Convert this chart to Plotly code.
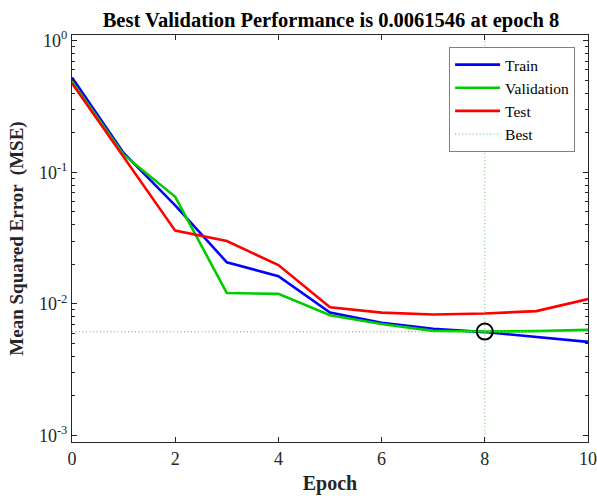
import plotly.graph_objects as go

epochs = [0, 1, 2, 3, 4, 5, 6, 7, 8, 9, 10]
train = [0.524, 0.140, 0.056, 0.0207, 0.0162, 0.0086, 0.00717, 0.00645, 0.0061, 0.0056, 0.00514]
validation = [0.489, 0.136, 0.065, 0.0121, 0.0119, 0.0082, 0.00702, 0.00623, 0.0061546, 0.0062, 0.00634]
test = [0.474, 0.130, 0.036, 0.030, 0.0197, 0.0094, 0.00857, 0.0083, 0.00845, 0.0088, 0.01086]
best_epoch = 8
best_perf = 0.0061546

ytick_vals = [1e-3, 1e-2, 1e-1, 1e0]
ytick_text = ["10<sup>-3</sup>", "10<sup>-2</sup>", "10<sup>-1</sup>", "10<sup>0</sup>"]
xtick_vals = [0, 2, 4, 6, 8, 10]

minor_vals = [m * 10.0 ** e for e in range(-3, 1) for m in range(2, 10)]

FONT = "Liberation Serif, Times New Roman, serif"
TXT = "#262626"
BEST_COLOR = "rgb(120,200,120)"

fig = go.Figure()
fig.add_trace(go.Scatter(x=epochs, y=train, mode="lines", name="Train",
                         line=dict(color="#0000ff", width=2.6)))
fig.add_trace(go.Scatter(x=epochs, y=validation, mode="lines", name="Validation",
                         line=dict(color="#00cc00", width=2.6)))
fig.add_trace(go.Scatter(x=epochs, y=test, mode="lines", name="Test",
                         line=dict(color="#ff0000", width=2.6)))
fig.add_trace(go.Scatter(x=[0, 10], y=[best_perf, best_perf], mode="lines", name="Best",
                         line=dict(color=BEST_COLOR, width=1.2, dash="1px,2.5px")))
fig.add_trace(go.Scatter(x=[best_epoch, best_epoch], y=[1e-3 * 0.8, 1.2], mode="lines",
                         showlegend=False,
                         line=dict(color=BEST_COLOR, width=1.2, dash="1px,2.5px")))
fig.add_trace(go.Scatter(x=[best_epoch], y=[best_perf], mode="markers", showlegend=False,
                         marker=dict(symbol="circle-open", size=16, color="black",
                                     line=dict(width=2, color="black"))))

fig.update_layout(
    width=597, height=496,
    margin=dict(l=72, r=9, t=35, b=54, autoexpand=False),
    paper_bgcolor="white", plot_bgcolor="white",
    font=dict(family=FONT, color=TXT, size=18),
    title=dict(text="<b>Best Validation Performance is 0.0061546 at epoch 8</b>",
               x=331 / 597, xanchor="center", y=1 - 20 / 496, yanchor="middle",
               font=dict(family=FONT, size=20.5, color="black")),
    showlegend=True,
    legend=dict(x=0.975, y=0.9705, xanchor="right", yanchor="top",
                bgcolor="white", bordercolor="#808080", borderwidth=1,
                font=dict(family=FONT, size=15.5, color="black"),
                itemwidth=45, tracegroupgap=0),
)
fig.update_xaxes(
    range=[0, 10], tickvals=xtick_vals, ticks="inside", ticklen=5, tickcolor="#262626",
    showline=True, linecolor="#262626", linewidth=1, mirror="ticks",
    showgrid=False, zeroline=False, automargin=False,
    tickfont=dict(family=FONT, size=18, color=TXT),
    title=dict(text="<b>Epoch</b>", font=dict(family=FONT, size=20, color=TXT), standoff=8),
)
fig.update_yaxes(
    type="log", range=[-3.05, 0.043], tickvals=ytick_vals, ticktext=ytick_text,
    ticks="inside", ticklen=5, tickcolor="#262626",
    minor=dict(tickvals=minor_vals, ticks="inside", ticklen=3, tickcolor="#262626", showgrid=False),
    showline=True, linecolor="#262626", linewidth=1, mirror="ticks",
    showgrid=False, zeroline=False, automargin=False,
    tickfont=dict(family=FONT, size=18, color=TXT),
    title=dict(text="<b>Mean Squared Error  (MSE)</b>", font=dict(family=FONT, size=19, color=TXT),
               standoff=10),
)

fig.write_html("out.html", config={"displayModeBar": False},
               post_script="document.body.style.margin='0px';document.body.style.overflow='hidden';")
